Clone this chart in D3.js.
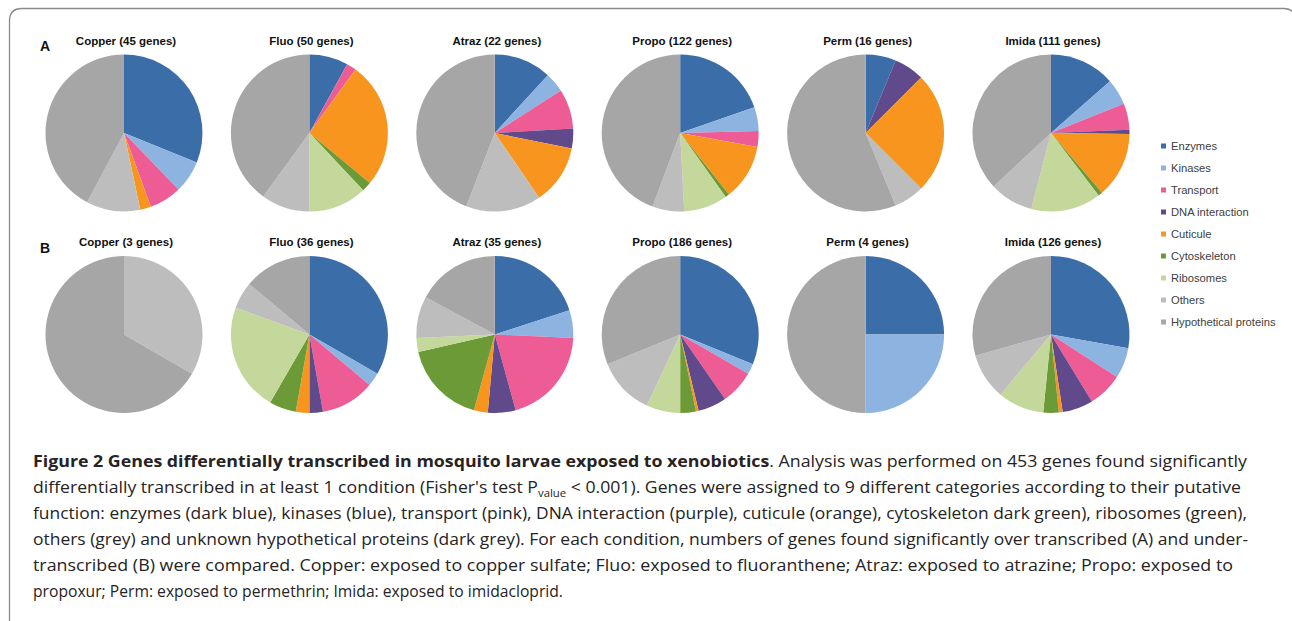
<!DOCTYPE html>
<html>
<head>
<meta charset="utf-8">
<script src="https://cdn.jsdelivr.net/npm/d3@7"></script>
<style>
  html, body { margin: 0; padding: 0; background: #ffffff; }
  svg { display: block; }
</style>
</head>
<body>
<svg id="chart" width="1292" height="621"></svg>
<script>
// ---------- DATA ----------
const categories = ["Enzymes", "Kinases", "Transport", "DNA interaction", "Cuticule",
                    "Cytoskeleton", "Ribosomes", "Others", "Hypothetical proteins"];
const conditions = ["Copper", "Fluo", "Atraz", "Propo", "Perm", "Imida"];
const panelLabels = ["A", "B"];
const totalsOver  = [45, 50, 22, 122, 16, 111];
const totalsUnder = [3, 36, 35, 186, 4, 126];

// over-transcribed (A): genes per category, in category order
const copperOver = [14, 3, 3, 0, 1, 0, 0, 5, 19];
const fluoOver   = [4, 0, 1, 0, 13, 1, 6, 5, 20];
const atrazOver  = [2.6, 0.9, 1.8, 0.9, 2.7, 0, 0, 3.4, 9.7];
const propoOver  = [24, 6, 4, 0, 14, 1, 11, 8, 54];
const permOver   = [1, 0, 0, 1, 4, 0, 0, 1, 9];
const imidaOver  = [15, 6, 6, 1, 15, 1, 16, 10, 41];

// under-transcribed (B)
const copperUnder = [0, 0, 0, 0, 0, 0, 0, 1, 2];
const fluoUnder   = [12, 1, 4, 1, 1, 2, 8, 2, 5];
const atrazUnder  = [7, 2, 7, 2, 1, 6, 1, 3, 6];
const propoUnder  = [58, 4, 13, 11, 1, 6, 13, 22, 58];
const permUnder   = [1, 1, 0, 0, 0, 0, 0, 0, 2];
const imidaUnder  = [35, 8, 9, 8, 1, 4, 12, 12, 37];

const colors = ["#3B6EA8", "#8DB3E0", "#EE5C96", "#604A8C", "#F7951E",
                "#6C9A36", "#C4D89C", "#BDBDBD", "#A6A6A6"];

const captionBold = "Figure 2 Genes differentially transcribed in mosquito larvae exposed to xenobiotics";
const captionLines = [
  ". Analysis was performed on 453 genes found significantly",
  "differentially transcribed in at least 1 condition (Fisher's test P|value|< 0.001). Genes were assigned to 9 different categories according to their putative",
  "function: enzymes (dark blue), kinases (blue), transport (pink), DNA interaction (purple), cuticule (orange), cytoskeleton dark green), ribosomes (green),",
  "others (grey) and unknown hypothetical proteins (dark grey). For each condition, numbers of genes found significantly over transcribed (A) and under-",
  "transcribed (B) were compared. Copper: exposed to copper sulfate; Fluo: exposed to fluoranthene; Atraz: exposed to atrazine; Propo: exposed to",
  "propoxur; Perm: exposed to permethrin; Imida: exposed to imidacloprid."
];

const rows = [
  { label: panelLabels[0], totals: totalsOver,
    values: [copperOver, fluoOver, atrazOver, propoOver, permOver, imidaOver] },
  { label: panelLabels[1], totals: totalsUnder,
    values: [copperUnder, fluoUnder, atrazUnder, propoUnder, permUnder, imidaUnder] }
];

// ---------- DRAW ----------
const svg = d3.select("#chart");

// frame
svg.append("path")
  .attr("d", "M9.5,621 L9.5,21 Q9.5,8.5 22,8.5 L1284,8.5 Q1292,8.5 1296,16")
  .attr("fill", "none").attr("stroke", "#8a8a8a").attr("stroke-width", 1.3);

const x = d3.scalePoint().domain(conditions).range([124, 1051]);
const y = d3.scalePoint().domain(panelLabels).range([133, 334.5]);
const color = d3.scaleOrdinal().domain(categories).range(colors);
const radius = 78.5;

const pie = d3.pie().sort(null).value(d => d);
const arc = d3.arc().innerRadius(0).outerRadius(radius);

rows.forEach(row => {
  const cy = y(row.label);
  svg.append("text")
    .attr("x", 40).attr("y", cy - 82)
    .attr("font-family", "Liberation Sans, Arial, sans-serif")
    .attr("font-weight", "bold").attr("font-size", 14)
    .attr("fill", "#111").text(row.label);

  conditions.forEach((c, i) => {
    const g = svg.append("g").attr("transform", `translate(${x(c)},${cy})`);
    g.selectAll("path")
      .data(pie(row.values[i]).map((d, k) => ({ ...d, cat: categories[k] })))
      .join("path")
      .attr("d", arc)
      .attr("fill", d => color(d.cat));
    svg.append("text")
      .attr("x", x(c) + 2).attr("y", cy - 88.5)
      .attr("text-anchor", "middle")
      .attr("font-family", "Liberation Sans, Arial, sans-serif")
      .attr("font-weight", "bold").attr("font-size", 11.5)
      .attr("fill", "#111")
      .text(`${c} (${row.totals[i]} genes)`);
  });
});

// legend
const ly = d3.scalePoint().domain(categories).range([146, 322]);
const leg = svg.append("g");
categories.forEach(cat => {
  leg.append("rect")
    .attr("x", 1161).attr("y", ly(cat) - 2.5)
    .attr("width", 5).attr("height", 5)
    .attr("fill", color(cat));
  leg.append("text")
    .attr("x", 1171).attr("y", ly(cat) + 4)
    .attr("font-family", "Liberation Sans, Arial, sans-serif")
    .attr("font-size", 11.2).attr("fill", "#404040")
    .text(cat);
});

// caption
const capFont = "Open Sans, Noto Sans, sans-serif";
const lineY = [467, 493, 519, 545, 571, 597];
const lineLen = [1214, 1208, 1214, 1215, 1200, 530];
const cap = svg.append("g").attr("font-family", capFont).attr("font-size", 15.5).attr("fill", "#262324");

captionLines.forEach((ln, i) => {
  const t = cap.append("text").attr("x", 33).attr("y", lineY[i])
    .attr("textLength", lineLen[i]).attr("lengthAdjust", "spacingAndGlyphs");
  if (i === 0) {
    t.append("tspan").attr("font-weight", "bold").text(captionBold);
    t.append("tspan").text(ln);
  } else if (ln.includes("|")) {
    const parts = ln.split("|");
    t.append("tspan").text(parts[0]);
    t.append("tspan").attr("font-size", 10).attr("dy", 4).text(parts[1]);
    t.append("tspan").attr("dy", -4).text(" " + parts[2].trimStart());
  } else {
    t.text(ln);
  }
});
</script>
</body>
</html>
